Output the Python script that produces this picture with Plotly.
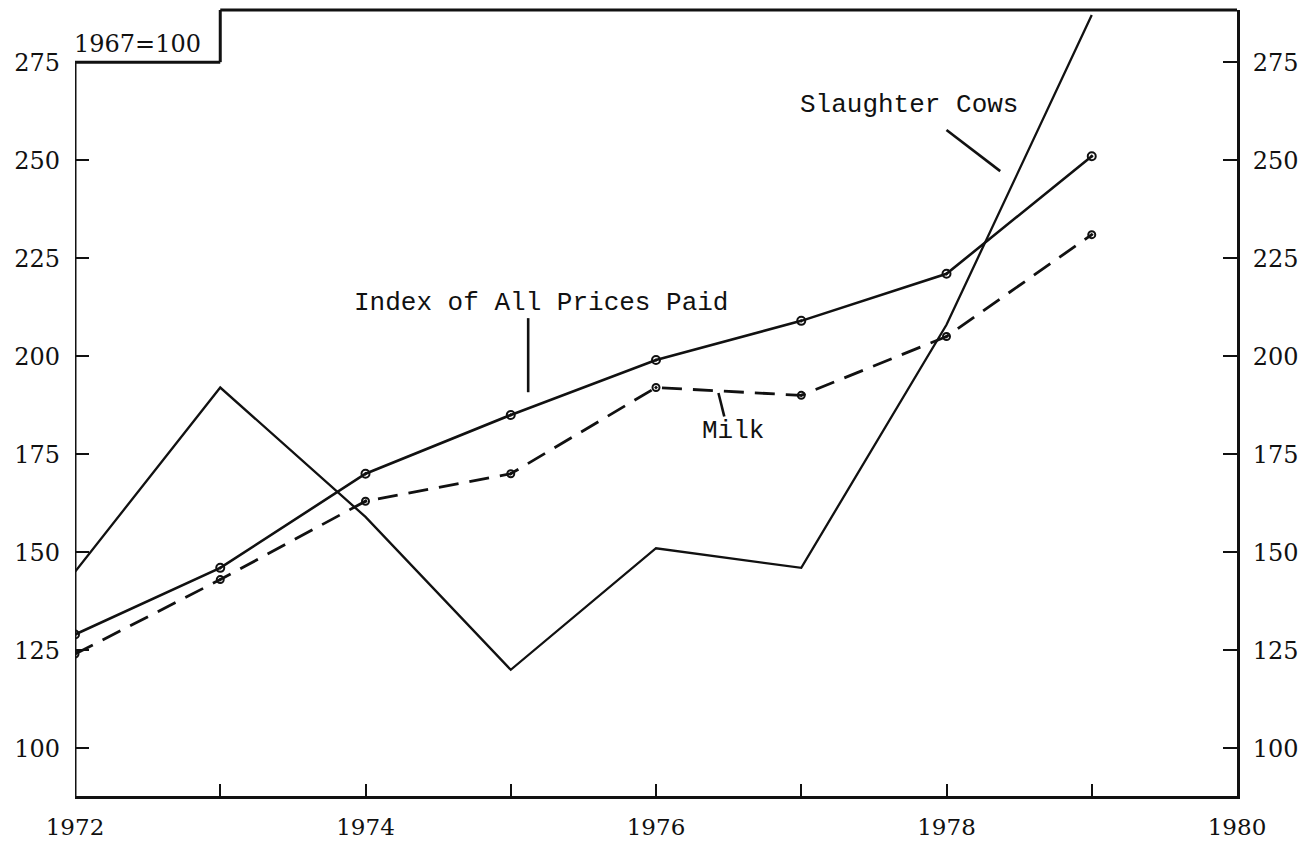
import plotly.graph_objects as go

years = [1972, 1973, 1974, 1975, 1976, 1977, 1978, 1979]
index_all_prices = [129, 146, 170, 185, 199, 209, 221, 251]
milk = [124, 143, 163, 170, 192, 190, 205, 231]
slaughter_cows = [145, 192, 159, 120, 151, 146, 208, 287]

x_ticks = [1972, 1973, 1974, 1975, 1976, 1977, 1978, 1979, 1980]
x_ticktext = ["1972", "", "1974", "", "1976", "", "1978", "", "1980"]
y_ticks = [100, 125, 150, 175, 200, 225, 250, 275]
y_ticktext = [str(v) for v in y_ticks]

Y_MIN, Y_MAX = 87.8, 288.3
INK = "#111111"
TICK_FONT = dict(family="DejaVu Serif", size=24, color=INK)
X_TICK_FONT = dict(family="DejaVu Serif", size=23, color=INK)
LABEL_FONT = dict(family="Liberation Mono", size=26, color=INK)

fig = go.Figure()

fig.add_trace(go.Scatter(
    x=years, y=slaughter_cows, mode="lines", name="Slaughter Cows",
    line=dict(color=INK, width=2.3), yaxis="y2", cliponaxis=False,
))
fig.add_trace(go.Scatter(
    x=years, y=index_all_prices, mode="lines+markers", name="Index of All Prices Paid",
    line=dict(color=INK, width=2.6),
    marker=dict(symbol="circle-open-dot", size=8, color=INK, line=dict(width=2, color=INK)),
))
fig.add_trace(go.Scatter(
    x=years, y=milk, mode="lines+markers", name="Milk",
    line=dict(color=INK, width=2.8, dash="20px,11px"),
    marker=dict(symbol="circle-open-dot", size=7, color=INK, line=dict(width=2, color=INK)),
))

# Frame: left axis stops at 275, step up at 1973 to the top border
frame = dict(color=INK, width=3)
fig.add_shape(type="line", xref="x", yref="y", x0=1972, x1=1972, y0=Y_MIN, y1=275, line=frame)
fig.add_shape(type="line", xref="x", yref="y", x0=1972, x1=1973, y0=275, y1=275, line=frame)
fig.add_shape(type="line", xref="x", yref="y", x0=1973, x1=1973, y0=275, y1=Y_MAX, line=frame)
fig.add_shape(type="line", xref="x", yref="y domain", x0=1973, x1=1980, y0=1, y1=1, line=frame)

# Pointer lines for labels
pointer = dict(color=INK, width=2.6)
fig.add_shape(type="line", xref="x", yref="y", x0=1975.12, x1=1975.12, y0=209.7, y1=190.8, line=pointer)
fig.add_shape(type="line", xref="x", yref="y", x0=1976.43, x1=1976.47, y0=190.6, y1=184.6, line=pointer)
fig.add_shape(type="line", xref="x", yref="y", x0=1978.0, x1=1978.37, y0=257.7, y1=247.2, line=pointer)

fig.add_annotation(x=1975.21, y=213.5, xref="x", yref="y", text="Index of All Prices Paid",
                   showarrow=False, font=LABEL_FONT)
fig.add_annotation(x=1976.53, y=180.9, xref="x", yref="y", text="Milk",
                   showarrow=False, font=LABEL_FONT)
fig.add_annotation(x=1977.74, y=264.0, xref="x", yref="y", text="Slaughter Cows",
                   showarrow=False, font=LABEL_FONT)
fig.add_annotation(x=1972.43, y=279.6, xref="x", yref="y", text="1967=100",
                   showarrow=False, font=TICK_FONT)

# page body has an 8px margin, so the figure is sized/offset to compensate
fig.update_layout(
    width=1302, height=836,
    margin=dict(l=67, r=73, t=2, b=48, autoexpand=False),
    paper_bgcolor="white", plot_bgcolor="white",
    showlegend=False,
    xaxis=dict(
        range=[1972, 1980], tickmode="array", tickvals=x_ticks, ticktext=x_ticktext,
        showgrid=False, zeroline=False, showline=True, linecolor=INK, linewidth=3,
        ticks="inside", ticklen=12, tickwidth=2, tickcolor=INK,
        tickfont=X_TICK_FONT, ticklabelstandoff=8, automargin=False,
    ),
    yaxis=dict(
        range=[Y_MIN, Y_MAX], tickmode="array", tickvals=y_ticks, ticktext=y_ticktext,
        showgrid=False, zeroline=False, showline=False,
        ticks="inside", ticklen=14, tickwidth=2, tickcolor=INK,
        tickfont=TICK_FONT, ticklabelstandoff=14, automargin=False,
    ),
    yaxis2=dict(
        range=[Y_MIN, Y_MAX], tickmode="array", tickvals=y_ticks, ticktext=y_ticktext,
        overlaying="y", side="right",
        showgrid=False, zeroline=False, showline=True, linecolor=INK, linewidth=3,
        ticks="inside", ticklen=14, tickwidth=2, tickcolor=INK,
        tickfont=TICK_FONT, ticklabelstandoff=8, automargin=False,
    ),
)

fig.write_html("out.html")
